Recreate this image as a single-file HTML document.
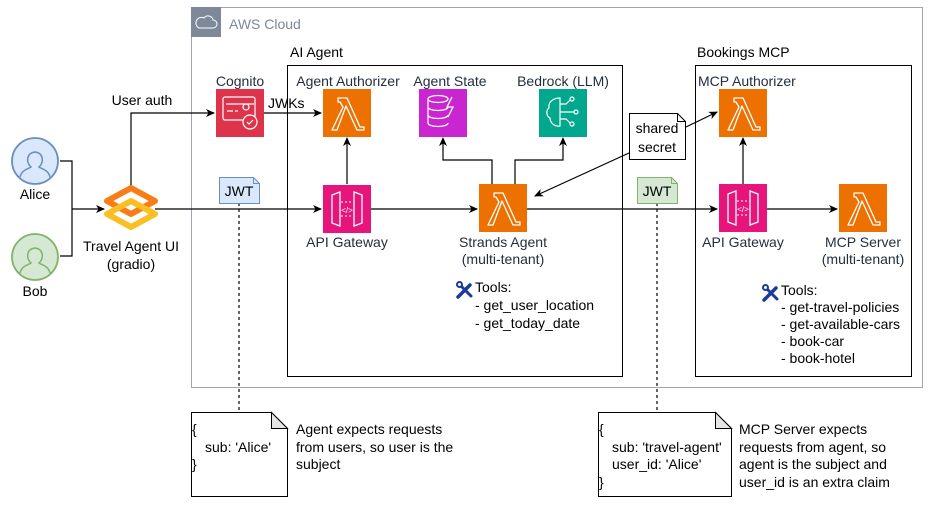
<!DOCTYPE html>
<html><head><meta charset="utf-8"><style>
html,body{margin:0;padding:0;background:#fff}
svg{display:block}
text{font-family:"Liberation Sans",Arial,sans-serif;font-size:14px;fill:#000}
.l{fill:#232f3e}
</style></head><body>
<svg width="934" height="505" viewBox="0 0 934 505" xmlns="http://www.w3.org/2000/svg">
<defs>
<marker id="a" markerWidth="10" markerHeight="10" refX="8" refY="5" orient="auto" markerUnits="userSpaceOnUse">
<path d="M0,1 L9,5 L0,9 L2.5,5 Z" fill="#000"/></marker>
<g id="lam">
<rect width="48" height="48" fill="#ed7100"/>
<path d="M15,9 h9 l13,29 h4 v3 h-7 l-11,-24 l-9,24 h-5 l11,-23 l-3,-5 h-2 z" fill="none" stroke="#fff" stroke-width="1.3" stroke-linejoin="round"/>
</g>
<g id="api">
<rect width="48" height="48" fill="#e7157b"/>
<path d="M9,10 l8,-3 v34 l-8,-3 z M39,10 l-8,-3 v34 l8,-3 z" fill="none" stroke="#fff" stroke-width="1.3"/>
<path d="M18,17 h12 M18,31 h12" stroke="#fff" stroke-width="1" stroke-dasharray="2 2"/>
<text x="24" y="28" text-anchor="middle" style="font-size:8px;fill:#fff">&lt;/&gt;</text>
</g>
<g id="tool">
<path d="M2,16 L14,4" stroke="#1a3a9c" stroke-width="3.5" stroke-linecap="round"/>
<path d="M3,3 L15,15" stroke="#1a3a9c" stroke-width="3" stroke-linecap="round"/>
<circle cx="3.5" cy="3.5" r="3.5" fill="#1a3a9c"/>
<circle cx="3.5" cy="3.5" r="1.5" fill="#fff"/>
</g>
</defs>

<rect x="191.5" y="7.5" width="731" height="380" fill="none" stroke="#a0a6ad" stroke-width="1"/>
<rect x="191" y="7" width="30" height="30" fill="#7d8998"/>
<path d="M199,28 h14 a4,4 0 0 0 0,-8 a5,5 0 0 0 -9,-2 a4,4 0 0 0 -5,10 z" fill="none" stroke="#fff" stroke-width="1"/>
<text x="229" y="29" style="fill:#7d8998">AWS Cloud</text>

<rect x="287.5" y="65.5" width="335" height="311" fill="none" stroke="#000"/>
<text x="290" y="57">AI Agent</text>
<rect x="695.5" y="65.5" width="216" height="311" fill="none" stroke="#000"/>
<text x="697" y="57">Bookings MCP</text>

<g fill="none" stroke="#000" stroke-width="1.2">
<path d="M60,161 H72 V256 H60"/>
<path d="M72,209 H104" marker-end="url(#a)"/>
<path d="M131,187 V113 H214" marker-end="url(#a)"/>
<path d="M264,113 H321" marker-end="url(#a)"/>
<path d="M155,209 H321" marker-end="url(#a)"/>
<path d="M347,184 V138" marker-end="url(#a)"/>
<path d="M371,209 H477" marker-end="url(#a)"/>
<path d="M492,184 V160 H443 V138" marker-end="url(#a)"/>
<path d="M515,184 V160 H563 V138" marker-end="url(#a)"/>
<path d="M527,209 H717" marker-end="url(#a)"/>
<path d="M743,184 V138" marker-end="url(#a)"/>
<path d="M767,209 H837" marker-end="url(#a)"/>
<path d="M629,153 L535,196" marker-end="url(#a)"/>
<path d="M686,127 L717,112" marker-end="url(#a)"/>
<path d="M239,203 V412" stroke-dasharray="3 3"/>
<path d="M657,203 V412" stroke-dasharray="3 3"/>
</g>

<g stroke-width="1.8">
<circle cx="35" cy="161" r="23" fill="#dae8fc" stroke="#6c8ebf"/>
<path d="M20,177 c2,-8 9,-8 11,-10 c-5,-4 -5,-14 4,-15 c9,1 9,11 4,15 c2,2 9,2 11,10" fill="none" stroke="#6c8ebf" stroke-width="1.5"/>
<circle cx="35" cy="257" r="23" fill="#d5e8d4" stroke="#82b366"/>
<path d="M20,273 c2,-8 9,-8 11,-10 c-5,-4 -5,-14 4,-15 c9,1 9,11 4,15 c2,2 9,2 11,10" fill="none" stroke="#82b366" stroke-width="1.5"/>
</g>
<text x="35" y="199" text-anchor="middle">Alice</text>
<text x="35" y="296" text-anchor="middle">Bob</text>

<path d="M131,188 L155,201 L131,214 L107,201 Z" fill="none" stroke="#f97d17" stroke-width="6" stroke-linejoin="round"/>
<path d="M131,201 L155,214 L131,227 L107,214 Z" fill="none" stroke="#fbbf24" stroke-width="6" stroke-linejoin="round"/>
<text x="131" y="251" text-anchor="middle">Travel Agent UI</text>
<text x="131" y="269" text-anchor="middle">(gradio)</text>
<text x="142" y="105" text-anchor="middle">User auth</text>

<rect x="216" y="89" width="48" height="48" fill="#dd344c"/>
<rect x="223" y="97" width="32" height="23" rx="2" fill="none" stroke="#fff" stroke-width="1.2"/>
<path d="M226,104 h28 M227,111 h6 M235,111 h3" stroke="#fff" stroke-width="1.2"/>
<circle cx="246" cy="107" r="3" fill="none" stroke="#fff" stroke-width="1.2"/>
<circle cx="250" cy="122" r="7" fill="#dd344c" stroke="#fff" stroke-width="1.2"/>
<path d="M247,122 l2,2 l4,-4" fill="none" stroke="#fff" stroke-width="1.2"/>
<text x="240" y="86" text-anchor="middle" class="l">Cognito</text>
<text x="268" y="108">JWKs</text>

<use href="#lam" x="323" y="89"/>
<text x="348" y="86" text-anchor="middle" class="l">Agent Authorizer</text>

<rect x="419" y="89" width="48" height="48" fill="#c925d1"/>
<g fill="none" stroke="#fff" stroke-width="1.3">
<ellipse cx="438" cy="99" rx="10" ry="3.5"/>
<path d="M428,99 v24 a10,3.5 0 0 0 20,0 M428,107 a10,3.5 0 0 0 20,0 M428,115 a10,3.5 0 0 0 20,0"/>
<path d="M452,97 l-5,10 h6 l-5,10"/>
</g>
<text x="450" y="86" text-anchor="middle" class="l">Agent State</text>

<rect x="539" y="89" width="48" height="48" fill="#01a88d"/>
<g fill="none" stroke="#fff" stroke-width="1.2">
<path d="M560,98 c-8,0 -12,5 -11,10 c-3,2 -3,8 1,10 c0,5 5,9 10,8 z"/>
<path d="M560,104 h6 l4,-4 M560,112 h14 M560,119 h6 l4,4"/>
<circle cx="572" cy="99" r="2"/><circle cx="576" cy="112" r="2"/><circle cx="572" cy="124" r="2"/>
</g>
<text x="563" y="86" text-anchor="middle" class="l">Bedrock (LLM)</text>

<use href="#api" x="323" y="185"/>
<text x="347" y="247" text-anchor="middle" class="l">API Gateway</text>

<use href="#lam" x="479" y="184"/>
<text x="503" y="247" text-anchor="middle" class="l">Strands Agent</text>
<text x="503" y="264" text-anchor="middle" class="l">(multi-tenant)</text>

<use href="#lam" x="719" y="89"/>
<text x="698" y="86" class="l">MCP Authorizer</text>
<use href="#api" x="719" y="184"/>
<text x="743" y="247" text-anchor="middle" class="l">API Gateway</text>
<use href="#lam" x="839" y="184"/>
<text x="863" y="247" text-anchor="middle" class="l">MCP Server</text>
<text x="863" y="264" text-anchor="middle" class="l">(multi-tenant)</text>

<path d="M219.5,177.5 h34 l6,6 v20 h-40 z" fill="#dae8fc" stroke="#6c8ebf"/>
<path d="M253.5,177.5 v6 h6" fill="none" stroke="#6c8ebf"/>
<text x="239" y="196" text-anchor="middle">JWT</text>
<path d="M637.5,177.5 h34 l6,6 v20 h-40 z" fill="#d5e8d4" stroke="#82b366"/>
<path d="M671.5,177.5 v6 h6" fill="none" stroke="#82b366"/>
<text x="657" y="196" text-anchor="middle">JWT</text>

<path d="M629.5,113.5 h48 l8,8 v38 h-56 z" fill="#fff" stroke="#000"/>
<path d="M677.5,113.5 v8 h8" fill="none" stroke="#000"/>
<text x="657" y="133" text-anchor="middle">shared</text>
<text x="657" y="152" text-anchor="middle">secret</text>

<use href="#tool" x="456" y="281"/>
<text x="475" y="292">Tools:</text>
<text x="475" y="310">- get_user_location</text>
<text x="475" y="328">- get_today_date</text>

<use href="#tool" x="762" y="284"/>
<text x="781" y="295">Tools:</text>
<text x="781" y="312">- get-travel-policies</text>
<text x="781" y="329">- get-available-cars</text>
<text x="781" y="346">- book-car</text>
<text x="781" y="363">- book-hotel</text>

<path d="M191.5,412.5 h80 l16,16 v68 h-96 z" fill="#fff" stroke="#000"/>
<path d="M271.5,412.5 v16 h16 z" fill="#e6e6e6" stroke="#000"/>
<text x="192" y="434">{</text>
<text x="205" y="452">sub: 'Alice'</text>
<text x="192" y="469">}</text>
<text x="296" y="434">Agent expects requests</text>
<text x="296" y="452">from users, so user is the</text>
<text x="296" y="469">subject</text>

<path d="M598.5,412.5 h117 l16,16 v68 h-133 z" fill="#fff" stroke="#000"/>
<path d="M715.5,412.5 v16 h16 z" fill="#e6e6e6" stroke="#000"/>
<text x="599" y="434">{</text>
<text x="612" y="452">sub: 'travel-agent'</text>
<text x="612" y="469">user_id: 'Alice'</text>
<text x="599" y="487">}</text>
<text x="739" y="434">MCP Server expects</text>
<text x="739" y="452">requests from agent, so</text>
<text x="739" y="469">agent is the subject and</text>
<text x="739" y="487">user_id is an extra claim</text>
</svg>
</body></html>
